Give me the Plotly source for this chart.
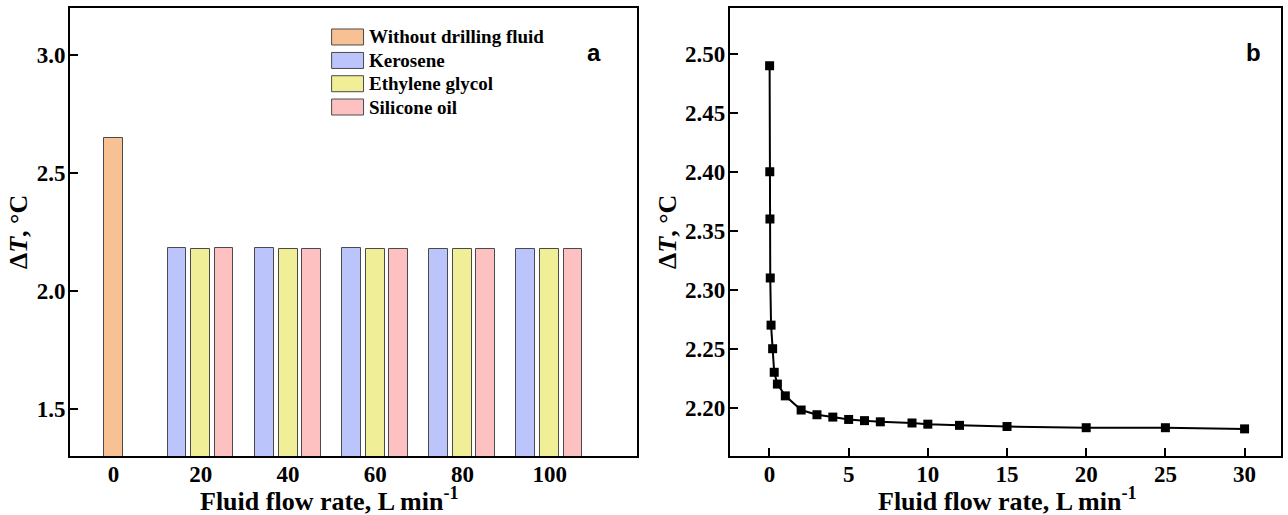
import plotly.graph_objects as go
from plotly.subplots import make_subplots

# ---- panel (a): temperature rise for each drilling fluid ----
flow_rates = [20, 40, 60, 80, 100]
dry_rate = [0]
dry_dt = [2.65]
kerosene_dt = [2.183, 2.181, 2.181, 2.180, 2.180]
glycol_dt = [2.179, 2.179, 2.179, 2.179, 2.178]
silicone_dt = [2.181, 2.180, 2.180, 2.180, 2.180]
legend_names = ["Without drilling fluid", "Kerosene", "Ethylene glycol", "Silicone oil"]
bar_colors = ["#F7C193", "#BCC4FC", "#F1EE98", "#FDC1C1"]
a_xticks = [0, 20, 40, 60, 80, 100]
a_yticks = [1.5, 2.0, 2.5, 3.0]

# ---- panel (b): temperature rise vs. flow rate ----
rate_b = [0.01, 0.02, 0.03, 0.05, 0.1, 0.2, 0.3, 0.5, 1, 2, 3, 4, 5, 6, 7, 9, 10, 12, 15, 20, 25, 30]
dt_b = [2.49, 2.40, 2.36, 2.31, 2.27, 2.25, 2.23, 2.22, 2.21, 2.198, 2.194, 2.192,
        2.190, 2.189, 2.188, 2.187, 2.186, 2.185, 2.184, 2.183, 2.183, 2.182]
b_xticks = [0, 5, 10, 15, 20, 25, 30]
b_yticks = [2.20, 2.25, 2.30, 2.35, 2.40, 2.45, 2.50]

SERIF = "Liberation Serif"
BAR_W = 4.3
OUTLINE = dict(color="#4a4a4a", width=1)

fig = make_subplots(rows=1, cols=2, horizontal_spacing=0.0)

fig.add_trace(go.Bar(x=dry_rate, y=dry_dt, width=BAR_W, offset=-BAR_W / 2,
                     marker=dict(color=bar_colors[0], line=OUTLINE),
                     name=legend_names[0], base=0), row=1, col=1)
for vals, color, name, off in [
    (kerosene_dt, bar_colors[1], legend_names[1], -5.5 - BAR_W / 2),
    (glycol_dt, bar_colors[2], legend_names[2], -BAR_W / 2),
    (silicone_dt, bar_colors[3], legend_names[3], 5.3 - BAR_W / 2),
]:
    fig.add_trace(go.Bar(x=flow_rates, y=vals, width=BAR_W, offset=off,
                         marker=dict(color=color, line=OUTLINE), name=name, base=0),
                  row=1, col=1)

fig.add_trace(go.Scatter(x=rate_b, y=dt_b, mode="lines+markers",
                         line=dict(color="black", width=2),
                         marker=dict(symbol="square", size=9, color="black"),
                         name="ΔT"), row=1, col=2)

tick_font = dict(family=SERIF, size=23, color="black", weight="bold")
axis_common = dict(showline=True, linecolor="black", linewidth=2, mirror=True,
                   ticklen=8, tickwidth=1.6, tickcolor="black",
                   showgrid=False, zeroline=False, tickfont=tick_font)

fig.update_xaxes(domain=[0.0, 0.4683], range=[-10, 120], tickvals=a_xticks,
                 ticks="", ticklabelstandoff=-4, **axis_common, row=1, col=1)
fig.update_yaxes(domain=[0, 1], range=[1.3, 3.2], tickvals=a_yticks,
                 tickformat=".1f", ticks="inside", ticklabelstandoff=-2,
                 **axis_common, row=1, col=1)
fig.update_xaxes(domain=[0.5449, 1.0], range=[-2.5, 32.3], tickvals=b_xticks,
                 ticks="inside", ticklabelstandoff=-4, **axis_common, row=1, col=2)
fig.update_yaxes(domain=[0, 1], range=[2.159, 2.539], tickvals=b_yticks,
                 tickformat=".2f", ticks="inside", ticklabelstandoff=-2,
                 **axis_common, row=1, col=2)

# legend for panel (a): coloured boxes with labels
shapes = []
annotations = []
row_y = [0.9353, 0.8829, 0.8310, 0.7790]
box_h = 0.0357
for name, color, yc in zip(legend_names, bar_colors, row_y):
    shapes.append(dict(type="rect", xref="x domain", yref="y domain",
                       x0=0.4613, x1=0.5176, y0=yc - box_h / 2, y1=yc + box_h / 2,
                       fillcolor=color, line=dict(color="#4a4a4a", width=1)))
    annotations.append(dict(text=f"<b>{name}</b>", xref="x domain", yref="y domain",
                            x=0.5240, y=yc, xanchor="left", yanchor="middle",
                            showarrow=False,
                            font=dict(family=SERIF, size=19, color="black")))

# panel letters
annotations.append(dict(text="<b>a</b>", xref="x domain", yref="y domain",
                        x=0.940, y=0.935, showarrow=False,
                        font=dict(family="Liberation Sans", size=24, color="black")))
annotations.append(dict(text="<b>b</b>", xref="x2 domain", yref="y2 domain",
                        x=0.967, y=0.935, showarrow=False,
                        font=dict(family="Liberation Sans", size=24, color="black")))

# axis titles
title_font = dict(family=SERIF, size=26, color="black")
xtitle = "<b>Fluid flow rate, L min<sup>-1</sup></b>"
ytitle = "<b>Δ<i>T</i>, °C</b>"
for xpos in [330, 1009]:
    annotations.append(dict(text=xtitle, xref="paper", yref="paper",
                            x=(xpos - 70) / 1213, y=-(499 - 456) / 448,
                            xanchor="center", yanchor="middle", showarrow=False,
                            font=title_font))
for xpos in [18, 668]:
    annotations.append(dict(text=ytitle, xref="paper", yref="paper",
                            x=(xpos - 70) / 1213, y=(456 - 232) / 448,
                            xanchor="center", yanchor="middle", showarrow=False,
                            textangle=-90, font=title_font))

fig.update_layout(width=1288, height=515,
                  margin=dict(l=70, r=5, t=8, b=59),
                  paper_bgcolor="white", plot_bgcolor="white",
                  barmode="overlay", bargap=0, showlegend=False,
                  shapes=shapes, annotations=annotations)

fig.write_html("out.html")
